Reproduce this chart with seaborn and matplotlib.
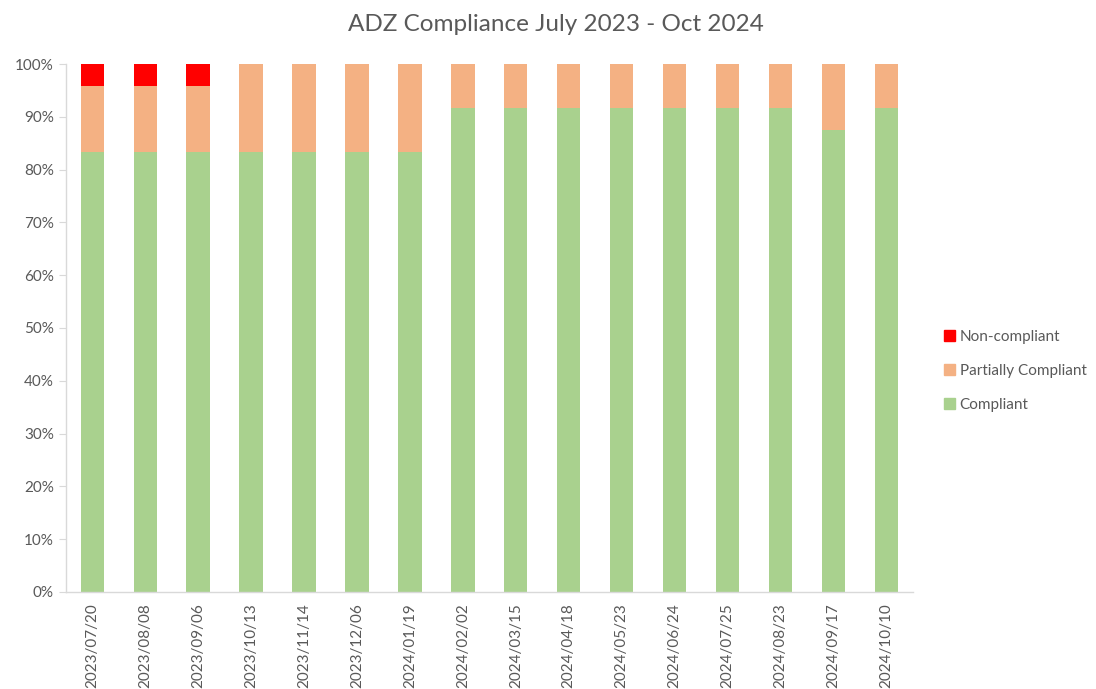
import pandas as pd
import seaborn as sns
import matplotlib.pyplot as plt
from matplotlib.patches import Patch
from matplotlib.ticker import PercentFormatter, FixedLocator

dates = ["2023/07/20", "2023/08/08", "2023/09/06", "2023/10/13", "2023/11/14",
         "2023/12/06", "2024/01/19", "2024/02/02", "2024/03/15", "2024/04/18",
         "2024/05/23", "2024/06/24", "2024/07/25", "2024/08/23", "2024/09/17",
         "2024/10/10"]
compliant = [83.3, 83.3, 83.3, 83.3, 83.3, 83.3, 83.3, 91.7, 91.7, 91.7,
             91.7, 91.7, 91.7, 91.7, 87.5, 91.7]
partial = [12.5, 12.5, 12.5, 16.7, 16.7, 16.7, 16.7, 8.3, 8.3, 8.3,
           8.3, 8.3, 8.3, 8.3, 12.5, 8.3]
non_compliant = [4.2, 4.2, 4.2, 0, 0, 0, 0, 0, 0, 0,
                 0, 0, 0, 0, 0, 0]

df = pd.DataFrame({"Date": dates, "Compliant": compliant,
                   "Partially Compliant": partial, "Non-compliant": non_compliant})
df["c1"] = df["Compliant"]
df["c2"] = df["c1"] + df["Partially Compliant"]
df["c3"] = df["c2"] + df["Non-compliant"]

colors = {"Non-compliant": "#FF0000", "Partially Compliant": "#F4B183",
          "Compliant": "#A9D18E"}

sns.set_style("white")
plt.rcParams["font.family"] = ["Lato", "DejaVu Sans"]
txt = "#595959"

fig = plt.figure(figsize=(10.96, 6.89), dpi=100)
ax = fig.add_axes([0.060, 0.141, 0.773, 0.766])

# stacked bars: draw cumulative totals from top down
for col, key in [("c3", "Non-compliant"), ("c2", "Partially Compliant"),
                 ("c1", "Compliant")]:
    sns.barplot(data=df, x="Date", y=col, color=colors[key], width=0.44,
                saturation=1, linewidth=0, ax=ax)

ax.set_ylim(0, 100)
ax.set_xlim(-0.5, len(dates) - 0.5)
ax.yaxis.set_major_locator(FixedLocator(range(0, 101, 10)))
ax.yaxis.set_major_formatter(PercentFormatter(decimals=0))
ax.set_xlabel("")
ax.set_ylabel("")
ax.set_xticks(range(len(dates)))
ax.set_xticklabels(dates, rotation=90)
ax.set_xticks([i - 0.5 for i in range(len(dates) + 1)], minor=True)
ax.tick_params(axis="x", which="major", length=0, labelsize=11,
               colors=txt, pad=8)
ax.tick_params(axis="x", which="minor", length=5, color="#D9D9D9", width=1)
ax.tick_params(axis="y", which="major", length=5, color="#D9D9D9",
               labelsize=11, labelcolor=txt, left=True)

for s in ["top", "right"]:
    ax.spines[s].set_visible(False)
for s in ["left", "bottom"]:
    ax.spines[s].set_color("#D9D9D9")
    ax.spines[s].set_linewidth(1)

fig.text(0.507, 0.965, "ADZ Compliance July 2023 - Oct 2024", fontsize=17.5,
         color=txt, ha="center", va="center")

handles = [Patch(color=colors[k], label=k) for k in
           ["Non-compliant", "Partially Compliant", "Compliant"]]
fig.legend(handles=handles, loc="center left", bbox_to_anchor=(0.861, 0.462),
           frameon=False, fontsize=11, labelcolor=txt, handlelength=0.75,
           handleheight=0.75, handletextpad=0.3, labelspacing=1.3,
           borderaxespad=0, borderpad=0)

fig.savefig("out.png", dpi=100)
